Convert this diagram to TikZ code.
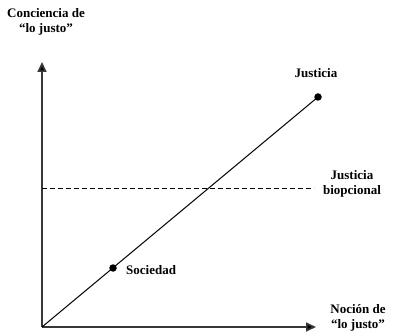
\documentclass[tikz,border=0pt]{standalone}
\usepackage{fontspec}
\setmainfont{Liberation Serif}
\usetikzlibrary{arrows.meta}
\tikzset{
  axis/.style={line width=1.7pt, draw=black!78, -{Triangle[length=10pt,width=9pt,fill=black]}},
  lbl/.style={font=\bfseries\fontsize{13}{14.5}\selectfont, align=center, inner sep=0pt},
  dot/.style={circle, fill=black, inner sep=0pt, minimum size=7.5pt},
}
\begin{document}
\begin{tikzpicture}[x=1pt,y=-1pt]
\useasboundingbox (0,0) rectangle (398,336);
\coordinate (O) at (42,327);
\coordinate (ytop) at (42,62);
\coordinate (xend) at (316,327);
\coordinate (dl) at (42,188);
\coordinate (dr) at (314,188);
\draw[axis] (O) -- (ytop);
\draw[axis] (O) -- (xend);
\draw[line width=0.9pt, dash pattern=on 5pt off 3pt] (dl) -- (dr);
\node[dot] (jus) at (318,97) {};
\node[dot] (soc) at (113,268) {};
\draw[line width=1pt] (O) -- (jus.center);
\node[lbl] (yl) at (46,22) {Conciencia de\\``lo justo''};
\node[lbl] (jl) at (316,73) {Justicia};
\node[lbl] (bl) at (352,184) {Justicia\\biopcional};
\node[lbl, anchor=west] (sl) at (126,270) {Sociedad};
\node[lbl] (xl) at (358,318) {Noción de\\``lo justo''};
\end{tikzpicture}
\end{document}
